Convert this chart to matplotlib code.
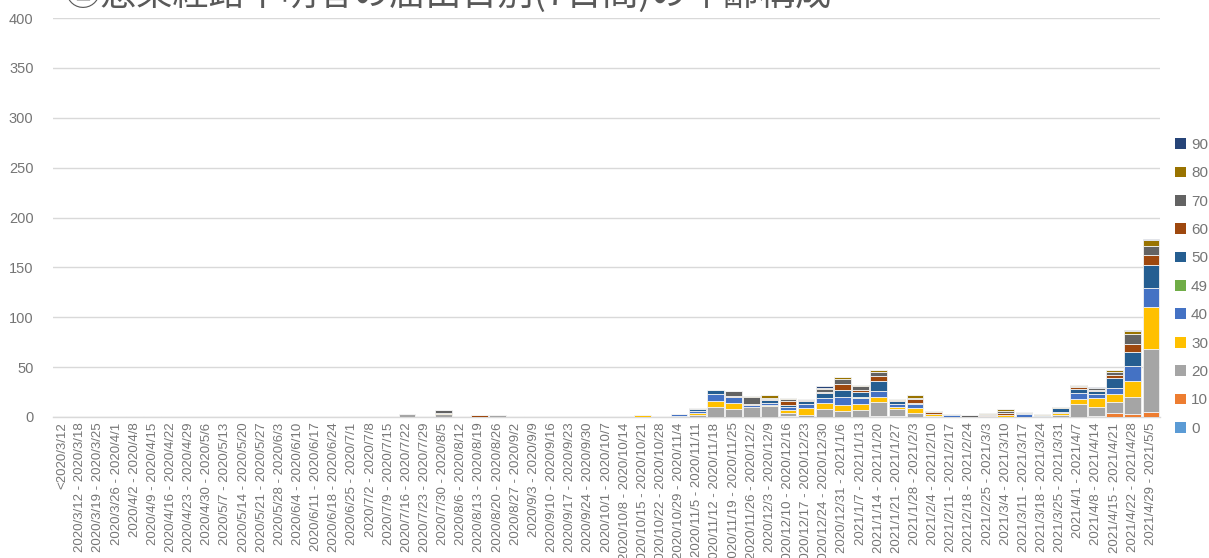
import pandas as pd
import numpy as np
import matplotlib
matplotlib.use('Agg')
import matplotlib.pyplot as plt
from matplotlib.patches import Patch

# weekly categories: "<2020/3/12" then 7-day windows up to 2021/5/5
starts = pd.date_range('2020-03-12', '2021-04-29', freq='7D')
labels = ['<2020/3/12'] + ['{0}/{1}/{2} - {3}/{4}/{5}'.format(s.year, s.month, s.day,
                                                              e.year, e.month, e.day)
                           for s, e in [(s, s + pd.Timedelta(days=6)) for s in starts]]

age_groups = ['0', '10', '20', '30', '40', '49', '50', '60', '70', '80', '90']

a0 = [0, 0, 0, 0, 1, 0, 0, 0, 0, 0,
      0, 0, 0, 0, 0, 0, 0, 0, 0, 0,
      0, 0, 0, 0, 0, 0, 0, 0, 0, 0,
      0, 0, 0, 0, 0, 0, 0, 0, 0, 0,
      0, 0, 0, 0, 0, 0, 0, 0, 0, 0,
      0, 0, 0, 0, 0, 0, 0, 0, 0, 0,
      0]
a10 = [0, 0, 0, 0, 0, 0, 0, 0, 0, 0,
       0, 0, 0, 0, 0, 0, 0, 0, 0, 0,
       0, 0, 0, 0, 0, 0, 0, 0, 0, 0,
       0, 0, 0, 0, 0, 0, 0, 0, 0, 0,
       1, 0, 0, 0, 0, 1, 1, 0, 0, 0,
       0, 0, 0, 0, 0, 0, 0, 1, 4, 3,
       5]
a20 = [0, 0, 0, 0, 0, 1, 0, 0, 0, 0,
       0, 0, 0, 0, 0, 0, 0, 0, 0, 3,
       0, 3, 0, 0, 2, 1, 0, 0, 0, 0,
       0, 0, 0, 0, 0, 2, 10, 8, 10, 11,
       3, 2, 8, 6, 7, 14, 7, 4, 1, 0,
       0, 0, 0, 0, 1, 2, 13, 9, 11, 17,
       63]
a30 = [0, 0, 0, 0, 0, 0, 0, 0, 0, 0,
       0, 0, 0, 0, 0, 1, 0, 0, 1, 0,
       0, 1, 1, 0, 0, 0, 0, 0, 0, 0,
       0, 0, 2, 0, 1, 2, 6, 6, 0, 1,
       3, 7, 6, 6, 6, 5, 2, 5, 2, 0,
       0, 1, 2, 0, 0, 2, 5, 9, 8, 16,
       42]
a40 = [0, 0, 0, 0, 0, 0, 0, 0, 0, 0,
       0, 0, 0, 0, 0, 0, 0, 0, 0, 0,
       0, 0, 0, 0, 0, 0, 0, 0, 0, 0,
       0, 0, 0, 1, 2, 2, 7, 6, 2, 2,
       3, 4, 5, 8, 6, 6, 3, 4, 0, 2,
       0, 0, 0, 3, 0, 1, 6, 4, 6, 15,
       19]
a49 = [0, 0, 0, 0, 0, 0, 0, 0, 0, 0,
       0, 0, 0, 0, 0, 0, 0, 0, 0, 0,
       0, 0, 0, 0, 0, 0, 0, 0, 0, 0,
       0, 0, 0, 0, 0, 0, 0, 0, 0, 0,
       0, 0, 0, 0, 1, 0, 0, 0, 0, 0,
       0, 0, 0, 0, 0, 0, 0, 0, 0, 0,
       0]
a50 = [0, 0, 0, 0, 0, 0, 0, 0, 0, 0,
       0, 0, 0, 0, 0, 0, 0, 0, 0, 0,
       0, 0, 0, 0, 0, 0, 0, 0, 0, 0,
       0, 0, 0, 0, 0, 2, 4, 0, 0, 3,
       2, 3, 5, 7, 5, 10, 3, 1, 0, 1,
       0, 0, 0, 1, 1, 4, 4, 3, 10, 14,
       23]
a60 = [0, 0, 0, 0, 0, 0, 0, 0, 0, 0,
       0, 0, 0, 0, 0, 0, 0, 0, 0, 0,
       1, 0, 0, 2, 0, 0, 0, 0, 0, 0,
       0, 0, 0, 0, 0, 0, 0, 1, 1, 1,
       4, 1, 1, 6, 2, 5, 1, 4, 2, 0,
       0, 1, 2, 0, 0, 0, 2, 1, 3, 8,
       10]
a70 = [0, 0, 0, 0, 0, 0, 0, 0, 0, 0,
       0, 0, 0, 0, 0, 0, 0, 0, 0, 0,
       0, 3, 0, 0, 0, 0, 0, 0, 0, 0,
       0, 0, 0, 0, 0, 1, 0, 5, 7, 1,
       2, 1, 3, 5, 4, 4, 0, 1, 0, 0,
       2, 1, 2, 1, 0, 0, 1, 2, 3, 10,
       9]
a80 = [0, 0, 0, 0, 0, 0, 0, 0, 0, 0,
       0, 0, 0, 0, 0, 0, 0, 0, 0, 0,
       0, 0, 0, 0, 0, 0, 0, 0, 0, 0,
       0, 0, 0, 0, 0, 0, 0, 0, 1, 3,
       1, 0, 1, 2, 1, 2, 1, 3, 1, 0,
       0, 1, 2, 0, 1, 1, 1, 0, 2, 3,
       6]
a90 = [0, 0, 0, 0, 0, 0, 0, 0, 0, 0,
       0, 0, 0, 0, 0, 0, 0, 0, 0, 0,
       0, 0, 0, 0, 0, 0, 0, 0, 0, 0,
       0, 0, 0, 0, 0, 0, 0, 0, 0, 0,
       0, 0, 2, 0, 0, 0, 0, 0, 0, 0,
       0, 0, 0, 0, 0, 0, 0, 1, 0, 1,
       1]

series = [a0, a10, a20, a30, a40, a49, a50, a60, a70, a80, a90]
colors = ['#5B9BD5', '#ED7D31', '#A5A5A5', '#FFC000', '#4472C4', '#70AD47',
          '#255E91', '#9E480E', '#636363', '#997300', '#264478']

textcol = '#757575'
gridcol = '#D9D9D9'

fig = plt.figure(figsize=(12.09, 5.58), dpi=100)
ax = fig.add_axes([53/1209, 141/558, 1107/1209, 399/558])

x = np.arange(len(labels))
bottom = np.zeros(len(labels))
for vals, col in zip(series, colors):
    vals = np.array(vals, dtype=float)
    ax.bar(x, vals, bottom=bottom, width=0.92, color=col,
           edgecolor='#F2F2F2', linewidth=0.6, zorder=3)
    bottom += vals

ax.set_xlim(-0.5, len(labels) - 0.5)
ax.set_ylim(0, 400)
ax.set_yticks(range(0, 401, 50))
ax.yaxis.grid(True, color=gridcol, linewidth=1.0, zorder=0)
for s in ['top', 'right', 'left']:
    ax.spines[s].set_visible(False)
ax.spines['bottom'].set_color(gridcol)
ax.spines['bottom'].set_linewidth(1.0)
ax.tick_params(axis='both', length=0, colors=textcol)

ax.set_xticks(x)
ax.set_xticklabels(labels, rotation=90, fontsize=9.5, family='Liberation Sans', color=textcol)
for t in ax.get_yticklabels():
    t.set_fontfamily('Liberation Sans')
    t.set_fontsize(10.5)
ax.tick_params(axis='y', pad=14)
ax.tick_params(axis='x', pad=4)

# legend on the right, reversed order like Excel
handles = [Patch(facecolor=c, edgecolor='none') for c in colors][::-1]
lgd = fig.legend(handles, age_groups[::-1], loc='upper left',
                 bbox_to_anchor=(1175/1209, 1 - 138/558), frameon=False,
                 borderpad=0, borderaxespad=0,
                 handlelength=0.7, handleheight=0.7, handletextpad=0.35,
                 labelspacing=0.94, prop={'family': 'Liberation Sans', 'size': 11})
for t in lgd.get_texts():
    t.set_color(textcol)

fig.text(65/1209, 1 - 5/558, '②感染経路不明者の届出日別(7日間)の年齢構成',
         fontsize=26, family=['Noto Sans CJK JP', 'DejaVu Sans'],
         color='#595959', va='baseline', ha='left')

fig.savefig('out.png', dpi=100)
